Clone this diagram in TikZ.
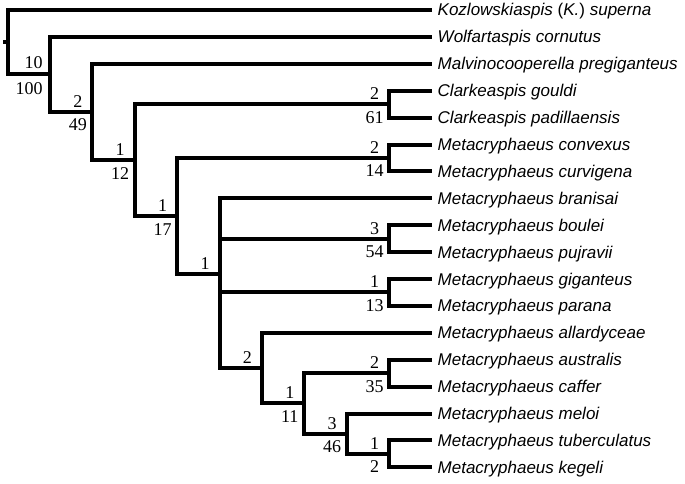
\documentclass[tikz,border=0pt]{standalone}
\usepackage{fontspec}
\setmainfont{Liberation Serif}
\newfontfamily\taxfont{Liberation Sans}
\tikzset{
	branch/.style={line width=4pt, draw=black},
	taxon/.style={anchor=base west, inner sep=0pt, xshift=6pt, yshift=-6pt,
		font=\fontsize{17}{20}\selectfont\taxfont\itshape},
	val/.style={inner sep=0pt, font=\fontsize{18}{21}\selectfont},
	upval/.style={val, anchor=base, xshift=-14.5pt, yshift=4.5pt},
	lowval/.style={val, anchor=base, xshift=-14.5pt, yshift=-19pt}
}

\begin{document}
\begin{tikzpicture}[x=42.4pt, y=-26.9pt]
	\useasboundingbox (-7.5pt,10pt) rectangle (677.5pt,-474pt);
	% terminal taxa
	\foreach \sp [count=\i from 0] in {{Kozlowskiaspis {\upshape(}K.{\upshape)} superna},
		{Wolfartaspis cornutus}, {Malvinocooperella pregiganteus},
		{Clarkeaspis gouldi}, {Clarkeaspis padillaensis},
		{Metacryphaeus convexus}, {Metacryphaeus curvigena},
		{Metacryphaeus branisai}, {Metacryphaeus boulei}, {Metacryphaeus pujravii},
		{Metacryphaeus giganteus}, {Metacryphaeus parana},
		{Metacryphaeus allardyceae}, {Metacryphaeus australis}, {Metacryphaeus caffer},
		{Metacryphaeus meloi}, {Metacryphaeus tuberculatus}, {Metacryphaeus kegeli}}{
		\coordinate (t\i) at (10,\i);
		\node[taxon] (s\i) at (t\i) {\sp};
	}
	% internal nodes
	\coordinate (root) at (0,1.198);
	\coordinate (n1) at (1,2.395);
	\coordinate (n2) at (2,3.791);
	\coordinate (n3) at (3,5.582);
	\coordinate (n4) at (4,7.664);
	\coordinate (n5) at (5,9.828);
	\coordinate (n6) at (6,13.3125);
	\coordinate (n7) at (7,14.625);
	\coordinate (n8) at (8,15.75);
	\coordinate (ca) at (9,3.5);
	\coordinate (mc) at (9,5.5);
	\coordinate (mb) at (9,8.5);
	\coordinate (mg) at (9,10.5);
	\coordinate (ma) at (9,13.5);
	\coordinate (mt) at (9,16.5);
	\coordinate (stem) at ([xshift=-4pt]root);
	% branches
	\draw[branch] (stem) -- (root);
	\foreach \c/\p in {t0/root, n1/root, t1/n1, n2/n1, t2/n2, n3/n2,
		ca/n3, n4/n3, t3/ca, t4/ca, mc/n4, n5/n4, t5/mc, t6/mc,
		t7/n5, mb/n5, mg/n5, n6/n5, t8/mb, t9/mb, t10/mg, t11/mg,
		t12/n6, n7/n6, ma/n7, n8/n7, t13/ma, t14/ma,
		t15/n8, mt/n8, t16/mt, t17/mt}
		\draw[branch] (\c) -| (\p);
	% support values
	\node[val, anchor=base east, xshift=-7pt, yshift=5.5pt] at (n1) {10};
	\node[val, anchor=base east, xshift=-7pt, yshift=-20pt] at (n1) {100};
	\foreach \p/\u/\l in {n2/2/49, n3/1/12, n4/1/17, n7/1/11, n8/3/46,
		ca/2/61, mc/2/14, mb/3/54, mg/1/13, ma/2/35, mt/1/2}{
		\node[upval] at (\p) {\u};
		\node[lowval] at (\p) {\l};
	}
	\node[upval] at (n5) {1};
	\node[upval] at (n6) {2};
\end{tikzpicture}
\end{document}
